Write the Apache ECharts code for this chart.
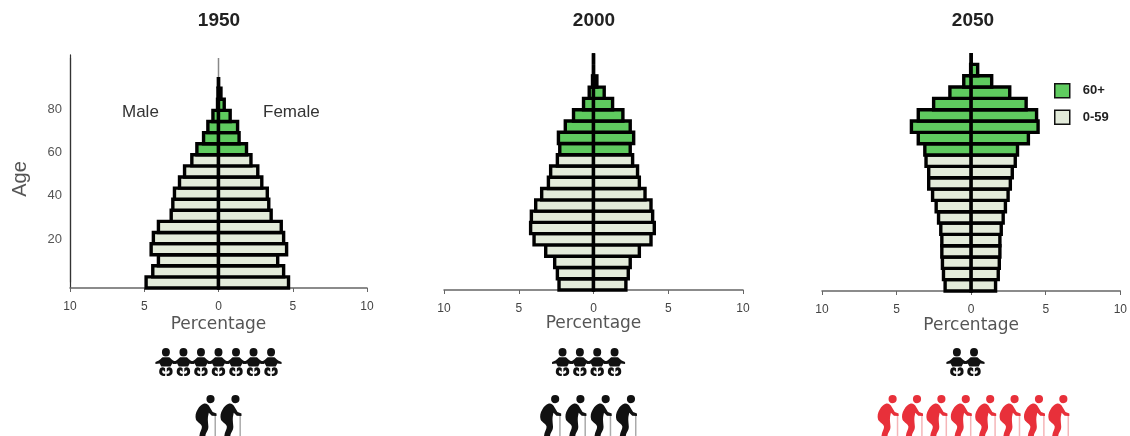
<!DOCTYPE html>
<html><head><meta charset="utf-8">
<style>html,body{margin:0;padding:0;background:#fff}#c{width:1130px;height:436px}</style>
<script src="https://cdn.jsdelivr.net/npm/echarts@6/dist/echarts.min.js"></script>
</head><body><div id="c"></div>
<script>
const years = ['1950','2000','2050'];
const ageBands = ['0','5','10','15','20','25','30','35','40','45','50','55','60','65','70','75','80','85','90','95','100'];
const ageTicks = ['20','40','60','80'];
const male1950 = [4.99,4.54,4.16,4.65,4.5,4.16,3.3,3.19,3.08,2.74,2.4,1.91,1.57,1.12,0.83,0.49,0.18,0.15,0.07];
const female1950 = [4.83,4.5,4.1,4.7,4.5,4.34,3.66,3.5,3.4,3.03,2.76,2.3,2.0,1.5,1.4,0.9,0.5,0.28,0.1];
const male2000 = [2.42,2.53,2.71,3.31,4.09,4.32,4.27,3.98,3.58,3.13,2.98,2.53,2.37,2.46,2.0,1.45,0.78,0.4,0.18,0.03,0.03];
const female2000 = [2.28,2.44,2.57,3.18,3.96,4.18,4.07,3.96,3.56,3.18,3.06,2.73,2.57,2.8,2.57,2.08,1.39,0.83,0.34,0.03,0.03];
const male2050 = [1.86,1.97,2.04,2.08,2.08,2.15,2.3,2.46,2.7,2.96,2.96,3.14,3.22,3.66,4.12,3.66,2.63,1.54,0.61,0.15,0.05];
const female2050 = [1.75,1.93,2.0,2.04,2.04,2.13,2.26,2.41,2.59,2.74,2.87,3.07,3.22,3.95,4.6,4.5,3.8,2.7,1.49,0.55,0.05];
const babies = [7,4,2];
const elders = [2,4,8];

const oldStart = 12;
const GREEN = '#5fcb5f', PALE = '#e3ebda', INK = '#000', AXIS = '#666', STROKE = 3.4;
const panels = [
 {male:male1950,female:female1950,left:70,right:367,bottom:288,band:11.1,nameGap:28,babyStep:1.18,elderStep:1.68,babyOff:0,elderOff:0,elderCol:'#111',caneCol:'#aaa',showY:true,titleX:219},
 {male:male2000,female:female2000,left:444,right:743,bottom:290,band:11.27,nameGap:25,babyStep:1.16,elderStep:1.69,babyOff:-.33,elderOff:-.33,elderCol:'#111',caneCol:'#aaa',titleX:594},
 {male:male2050,female:female2050,left:822,right:1125,bottom:291,band:11.33,nameGap:26,babyStep:1.13,elderStep:1.61,babyOff:-.53,elderOff:0,elderCol:'#e8303a',caneCol:'#f5b5b8',titleX:973}
];
const babyPath = 'path://M50 0a19 15 0 1 1-.1 0zM34 33H66C72 36 78 42 84 44L100 50V57L80 55C76 60 74 64 72 66H28C26 64 24 60 20 55L0 57V50L16 44C22 42 28 36 34 33zM30 69C18 70 16 84 20 92C26 100 38 100 46 100L47 92C38 92 28 88 34 80C38 78 44 84 46 86L46 72C42 70 36 68 30 69zM70 69C82 70 84 84 80 92C74 100 62 100 54 100L53 92C62 92 72 88 66 80C62 78 56 84 54 86L54 72C58 70 64 68 70 69z';
const elderPath = 'path://M72 1a19 10 0 1 1-.1 0zM40 22C52 20 62 24 68 30L82 42L100 46V52L78 51L64 44L60 54C58 62 62 72 62 78C62 88 50 92 48 100H20C22 90 32 84 32 78C30 70 12 68 4 60C0 52 2 44 12 36C20 28 30 24 40 22z';
const canePath = 'path://M0 0h100v100h-100z';

// Outlined bar whose outer edge sits on the value and whose shared edge sits on zero.
function outlinedBar(fill){
  return (params,api)=>{
    const v=api.value(0), row=api.value(1);
    const zero=api.coord([0,row]), end=api.coord([v,row]);
    const h=api.size([0,1])[1];
    const sign=v<0?-1:1;
    const len=Math.max(0,Math.abs(end[0]-zero[0])-STROKE/2);
    return {type:'rect',shape:{x:sign<0?zero[0]-len:zero[0],y:zero[1]-h/2,width:len,height:h},
      style:{fill,stroke:INK,lineWidth:STROKE}};
  };
}
const grids=[],xAxes=[],yAxes=[],series=[],titles=[];
function add(g,x,y){grids.push(g);xAxes.push(Object.assign({gridIndex:grids.length-1},x));yAxes.push(Object.assign({gridIndex:grids.length-1},y));return grids.length-1;}
panels.forEach((p,pi)=>{
  titles.push({text:years[pi],left:p.titleX,top:11,padding:0,textAlign:'center',textStyle:{fontFamily:'Liberation Sans',fontWeight:'bold',fontSize:19,color:'#222'}});
  const n=ageBands.length;
  const i=add({left:p.left,width:p.right-p.left,top:p.bottom-n*p.band,height:n*p.band},
   {type:'value',min:-10,max:10,interval:5,splitLine:{show:false},
    axisLine:{show:true,onZero:false,lineStyle:{color:AXIS,width:1.5}},axisTick:{show:true,length:4,lineStyle:{color:AXIS}},
    axisLabel:{formatter:v=>Math.abs(v),color:'#444',fontSize:12,margin:13,fontFamily:'Liberation Sans',showMinLabel:true,showMaxLabel:true},
    name:'Percentage',nameLocation:'middle',nameGap:p.nameGap,nameMoveOverlap:false,nameTextStyle:{color:'#555',fontSize:17,fontFamily:'DejaVu Sans'}},
   {type:'category',data:ageBands,position:'left',axisLine:{show:!!p.showY,onZero:false,lineStyle:{color:'#333',width:1.2}},axisTick:{show:false},axisLabel:{show:false}});
  const mk=(name,src,sign,from,to,col)=>({name,type:'custom',coordinateSystem:'cartesian2d',xAxisIndex:i,yAxisIndex:i,
    itemStyle:{color:col},silent:true,clip:false,renderItem:outlinedBar(col),encode:{x:0,y:1},
    data:src.map((v,k)=>[sign*v,k]).filter(d=>d[1]>=from&&d[1]<to)});
  series.push(mk('0-59',p.male,-1,0,oldStart,PALE),mk('0-59',p.female,1,0,oldStart,PALE),
              mk('60+',p.male,-1,oldStart,99,GREEN),mk('60+',p.female,1,oldStart,99,GREEN));
  const ic=add({left:p.left,width:p.right-p.left,top:340,height:96},
    {type:'value',min:-10,max:10,show:false},{type:'value',min:0,max:1,show:false});
  const row=(count,step,off)=>Array.from({length:count},(_,k)=>(k-(count-1)/2)*step+off);
  series.push({type:'scatter',xAxisIndex:ic,yAxisIndex:ic,symbol:babyPath,symbolSize:[21,28],itemStyle:{color:'#111',opacity:1},silent:true,
    data:row(babies[pi],p.babyStep,p.babyOff).map(x=>[x,0.77])});
  series.push({type:'scatter',xAxisIndex:ic,yAxisIndex:ic,symbol:elderPath,symbolSize:[21,41],itemStyle:{color:p.elderCol,opacity:1},silent:true,
    data:row(elders[pi],p.elderStep,p.elderOff).map(x=>[x,0.214])});
  series.push({type:'scatter',xAxisIndex:ic,yAxisIndex:ic,symbol:canePath,symbolSize:[1.5,21],itemStyle:{color:p.caneCol,opacity:1},silent:true,z:1,
    data:row(elders[pi],p.elderStep,p.elderOff).map(x=>[x+0.62,0.11])});
});
const ov=add({left:70,width:297,top:58,height:224},
  {type:'value',min:-10,max:10,show:false},
  {type:'value',min:0,max:104,interval:20,axisLine:{show:true,onZero:false,lineStyle:{color:'#333',width:1.2}},axisTick:{show:false},splitLine:{show:false},
   axisLabel:{color:'#555',fontSize:13,margin:8,fontFamily:'Liberation Sans',formatter:v=>ageTicks.includes(String(v))?v:''},
   name:'Age',nameLocation:'middle',nameGap:40,nameRotate:90,nameTextStyle:{color:'#555',fontSize:20,fontFamily:'Liberation Sans',padding:[0,18,0,0]}});
series.push({type:'line',xAxisIndex:ov,yAxisIndex:ov,symbol:'none',silent:true,lineStyle:{color:'#888',width:1.5},data:[[0,0],[0,104]],z:1});
const option={animation:false,title:titles.concat([
  {text:'Male',left:122,top:104,padding:0,textStyle:{fontFamily:'Liberation Sans',fontWeight:'normal',fontSize:17,color:'#333'}},
  {text:'Female',left:263,top:104,padding:0,textStyle:{fontFamily:'Liberation Sans',fontWeight:'normal',fontSize:17,color:'#333'}}]),
  legend:{show:true,orient:'vertical',left:1049,top:78,icon:'rect',itemWidth:15,itemHeight:14,itemGap:11,selectedMode:false,data:['60+','0-59'],
    itemStyle:{borderColor:'#111',borderWidth:1.5},
    textStyle:{fontFamily:'Liberation Sans',fontWeight:'bold',fontSize:13,color:'#222',padding:[0,0,0,8]}},
  grid:grids,xAxis:xAxes,yAxis:yAxes,series};
echarts.init(document.getElementById('c'),null,{renderer:'canvas'}).setOption(option);
</script></body></html>
